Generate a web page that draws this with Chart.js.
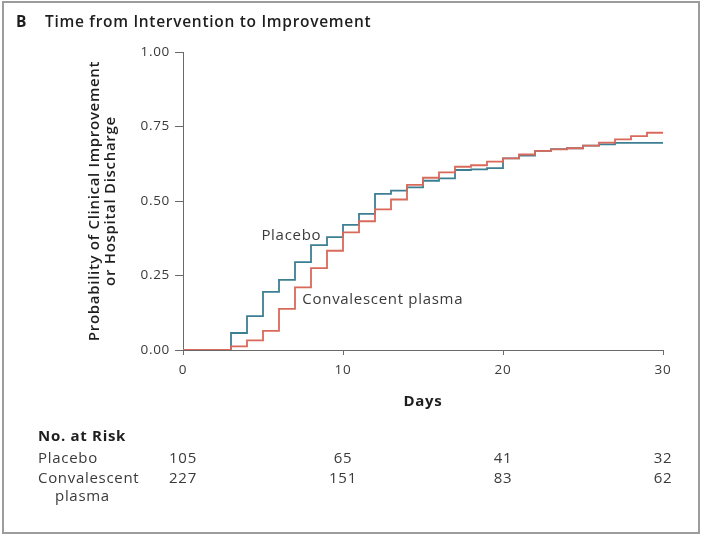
<!DOCTYPE html>
<html><head><meta charset="utf-8">
<script src="https://cdn.jsdelivr.net/npm/chart.js@4"></script>
<style>html,body{margin:0;padding:0;background:#fff;}#wrap{width:701px;height:536px;position:relative;}</style>
</head><body><div id="wrap"><canvas id="c" width="701" height="536"></canvas></div>
<script>
const days = [0,1,2,3,4,5,6,7,8,9,10,11,12,13,14,15,16,17,18,19,20,21,22,23,24,25,26,27,28,29,30];
const placebo = [0,0,0,0.057,0.114,0.195,0.235,0.295,0.352,0.379,0.42,0.457,0.524,0.535,0.546,0.568,0.576,0.604,0.606,0.61,0.643,0.652,0.668,0.674,0.677,0.686,0.69,0.695,0.695,0.695,0.695];
const plasma = [0,0,0,0.012,0.032,0.064,0.138,0.21,0.275,0.333,0.395,0.432,0.472,0.505,0.554,0.578,0.596,0.615,0.62,0.632,0.643,0.656,0.668,0.673,0.677,0.686,0.696,0.707,0.718,0.729,0.729];
const xTicks = [0,10,20,30];
const yTicks = [0,0.25,0.5,0.75,1];
const riskLabels = ['Placebo','Convalescent'];
const riskPlacebo = [105,65,41,32];
const riskPlasma = [227,151,83,62];

const FONT = '"Open Sans", "DejaVu Sans", sans-serif';
const txt = '#3a3a3a';
const axisCol = '#6a6a6a';
const tealCol = '#3c7f93';
const redCol = '#d9695a';
const LS = '0.7px';

const pts = arr => days.map((d,i)=>({x:d,y:arr[i]}));

const spacing = {
  id:'spacing',
  beforeLayout(chart){ chart.ctx.letterSpacing = LS; },
  beforeDraw(chart){ chart.ctx.letterSpacing = LS; }
};

const deco = {
  id:'deco',
  afterDraw(chart){
    const ctx = chart.ctx;
    const xs = chart.scales.x, ys = chart.scales.y;
    ctx.save();
    ctx.letterSpacing = LS;
    // frame
    ctx.strokeStyle = '#9c9c9c';
    ctx.lineWidth = 2;
    ctx.strokeRect(3,2,696,531);
    // title
    ctx.fillStyle = '#1e1e1e';
    ctx.textBaseline = 'alphabetic';
    ctx.textAlign = 'left';
    ctx.font = '700 15.5px ' + FONT;
    ctx.fillText('B', 16, 27);
    ctx.font = '600 15.5px ' + FONT;
    ctx.fillText('Time from Intervention to Improvement', 45, 27);
    // inline labels
    ctx.fillStyle = txt;
    ctx.font = '400 15px ' + FONT;
    ctx.textBaseline = 'middle';
    ctx.fillText('Placebo', xs.getPixelForValue(4.9), ys.getPixelForValue(0.382));
    ctx.fillText('Convalescent plasma', xs.getPixelForValue(7.46), ys.getPixelForValue(0.168));
    // risk table
    ctx.textBaseline = 'alphabetic';
    ctx.fillStyle = '#1e1e1e';
    ctx.font = '700 15px ' + FONT;
    ctx.fillText('No. at Risk', 38, 441);
    ctx.fillStyle = txt;
    ctx.font = '400 15px ' + FONT;
    ctx.fillText(riskLabels[0], 38, 463);
    ctx.fillText(riskLabels[1], 38, 483);
    ctx.fillText('plasma', 55, 501);
    ctx.textAlign = 'center';
    xTicks.forEach((t,i)=>{
      const px = xs.getPixelForValue(t);
      ctx.fillText(String(riskPlacebo[i]), px, 463);
      ctx.fillText(String(riskPlasma[i]), px, 483);
    });
    ctx.restore();
  }
};

new Chart(document.getElementById('c'), {
  type:'line',
  data:{datasets:[
    {label:'Convalescent plasma', data:pts(plasma), borderColor:redCol, borderWidth:1.8, stepped:'before', pointRadius:0, fill:false},
    {label:'Placebo', data:pts(placebo), borderColor:tealCol, borderWidth:1.8, stepped:'before', pointRadius:0, fill:false}
  ]},
  options:{
    responsive:false, animation:false, devicePixelRatio:1,
    layout:{padding:{left:0,right:38,top:52,bottom:116}},
    plugins:{legend:{display:false},tooltip:{enabled:false}},
    scales:{
      x:{type:'linear',min:0,max:30,
        afterBuildTicks:s=>{s.ticks = xTicks.map(v=>({value:v}));},
        afterFit:s=>{s.height=70;},
        ticks:{color:txt,font:{family:FONT,size:13.5},padding:7,maxRotation:0},
        grid:{drawOnChartArea:false,drawTicks:true,tickLength:5,color:axisCol},
        border:{color:axisCol,width:1},
        title:{display:true,text:'Days',color:'#1e1e1e',font:{family:FONT,size:15,weight:'700'},padding:{top:0,bottom:9}}
      },
      y:{min:0,max:1,
        afterBuildTicks:s=>{s.ticks = yTicks.map(v=>({value:v}));},
        afterFit:s=>{s.width=183;},
        ticks:{color:txt,font:{family:FONT,size:13.5},padding:5,callback:v=>Number(v).toFixed(2)},
        grid:{drawOnChartArea:false,drawTicks:true,tickLength:8,color:axisCol},
        border:{color:axisCol,width:1},
        title:{display:true,text:['Probability of Clinical Improvement','or Hospital Discharge'],color:'#1e1e1e',font:{family:FONT,size:15,weight:'600',lineHeight:1.1},padding:{top:86,bottom:0}}
      }
    }
  },
  plugins:[spacing, deco]
});
</script></body></html>
